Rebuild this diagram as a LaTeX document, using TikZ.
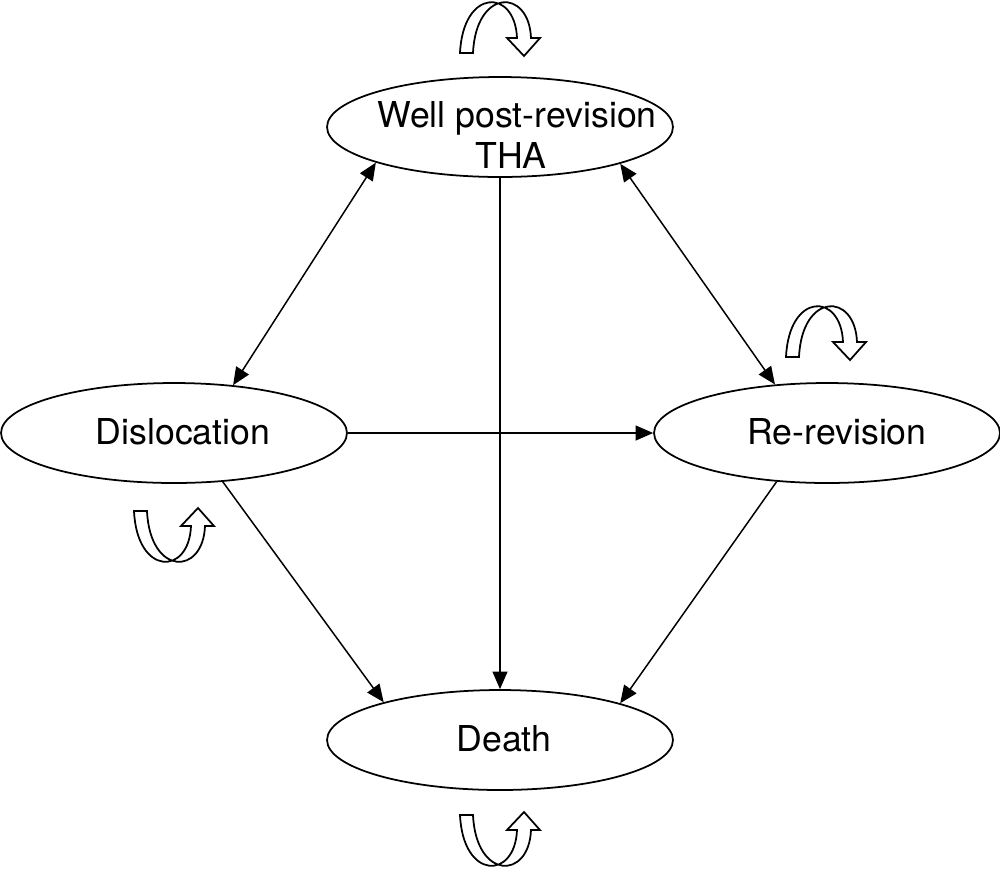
\documentclass[tikz,border=0pt]{standalone}
\usepackage{fontspec}
\setmainfont{TeX Gyre Heros}
\usetikzlibrary{shapes.geometric,arrows.meta}
\newcommand{\hollowloopshape}{%
  \draw[loopline] (0,53) -- (13,53) .. controls (16,-12) and (69,-12) .. (71,38)
    -- (80,38) -- (64,56) -- (47,38) -- (57,38)
    .. controls (55,-12) and (3,-12) .. (0,53) -- cycle;}
\begin{document}
\begin{tikzpicture}[x=0.02cm,y=-0.02cm,
  st/.style={ellipse,draw,line width=1pt,minimum width=6.92cm,minimum height=2cm,inner sep=0pt},
  lbl/.style={font=\fontsize{20.3}{24}\selectfont,inner sep=0pt,anchor=base},
  conn/.style={line width=0.85pt,-{Triangle[length=10pt,width=8.5pt]}},
  both/.style={line width=0.85pt,{Triangle[length=10pt,width=8.5pt]}-{Triangle[length=10pt,width=8.5pt]}},
  loopline/.style={line width=1pt,line join=miter}]
\useasboundingbox (0,0) rectangle (1000,870);
\node[st] (well) at (500,127) {};
\node[st] (disl) at (174,433) {};
\node[st] (rerev) at (827,433) {};
\node[st] (death) at (500,740) {};
\node[lbl] (wellt1) at (517,127) {Well post-revision};
\node[lbl] (wellt2) at (511,168) {THA};
\node[lbl] (dislt) at (183,444) {Dislocation};
\node[lbl] (rerevt) at (837,444) {Re-revision};
\node[lbl] (deatht) at (504,751) {Death};
\draw[both] (well.196.5) -- (disl.39);
\draw[both] (well.343.5) -- (rerev.137.3);
\draw[conn] (well.south) -- (death.north);
\draw[conn] (disl.east) -- (rerev.west);
\draw[conn] (disl.315) -- (death.162.6);
\draw[conn] (rerev.224.4) -- (death.17.4);
\begin{scope}[shift={(460,0)}]
\hollowloopshape
\end{scope}
\begin{scope}[shift={(786,304)}]
\hollowloopshape
\end{scope}
\begin{scope}[shift={(134,564)},yscale=-1]
\hollowloopshape
\end{scope}
\begin{scope}[shift={(460,868)},yscale=-1]
\hollowloopshape
\end{scope}
\end{tikzpicture}
\end{document}
